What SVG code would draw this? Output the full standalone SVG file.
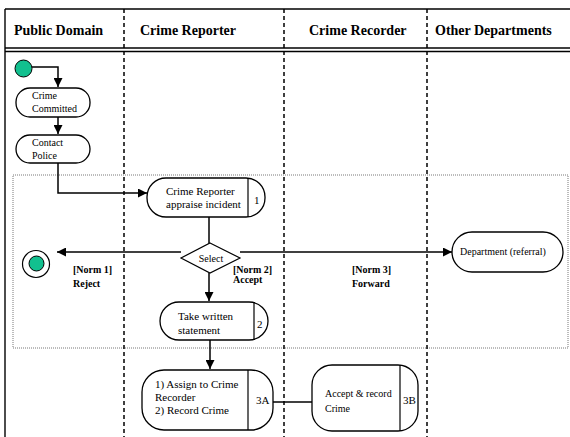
<svg xmlns="http://www.w3.org/2000/svg" width="570" height="437" viewBox="0 0 570 437" font-family="Liberation Serif, Times New Roman, serif">
<style>
.hdr{font-weight:bold;font-size:14px}
.t{font-size:10px}
.m{font-size:11px}
.b{font-size:10px;font-weight:bold}
.box{fill:#fff;stroke:#000;stroke-width:1.3}
.div{stroke:#000;stroke-width:1.2}
.lane{stroke:#000;stroke-width:1.5;stroke-dasharray:4 3;fill:none}
.con{stroke:#000;stroke-width:1.5;fill:none}
</style>
<defs>
<marker id="ah" viewBox="0 0 10 10" refX="10" refY="5" markerWidth="9" markerHeight="9" markerUnits="userSpaceOnUse" orient="auto">
<path d="M0,0 L10,5 L0,10 z" fill="#000"/>
</marker>
</defs>
<rect width="570" height="437" fill="#fff"/>
<g id="frame">
<line x1="5" y1="9" x2="570" y2="9" stroke="#000" stroke-width="1.6"/>
<line x1="5" y1="9" x2="5" y2="437" stroke="#000" stroke-width="1.4"/>
<line x1="5" y1="48" x2="570" y2="48" stroke="#000" stroke-width="1.6"/>
<line x1="5" y1="51.5" x2="570" y2="51.5" stroke="#000" stroke-width="1.6"/>
<rect x="13" y="175" width="555" height="173" fill="none" stroke="#555" stroke-width="0.8" stroke-dasharray="1 1"/>
<line class="lane" x1="124" y1="9" x2="124" y2="437"/>
<line class="lane" x1="284" y1="9" x2="284" y2="437"/>
<line class="lane" x1="427" y1="9" x2="427" y2="437"/>
<text class="hdr" x="14" y="35">Public Domain</text>
<text class="hdr" x="140" y="35">Crime Reporter</text>
<text class="hdr" x="309" y="35">Crime Recorder</text>
<text class="hdr" x="435" y="35">Other Departments</text>
</g>
<g id="connectors">
<path class="con" d="M32,67 H58 V87" marker-end="url(#ah)"/>
<path class="con" d="M58,117 V134" marker-end="url(#ah)"/>
<path class="con" d="M58,163 V193 H147" marker-end="url(#ah)"/>
<path class="con" d="M209,217 V243"/>
<path class="con" d="M181,252 H57" marker-end="url(#ah)"/>
<path class="con" d="M240,252 H452" marker-end="url(#ah)"/>
<path class="con" d="M209,273 V301" marker-end="url(#ah)"/>
<path class="con" d="M210,340 V369" marker-end="url(#ah)"/>
<path class="con" d="M273,402 H312"/>
</g>
<g id="start">
<circle cx="23.5" cy="68.5" r="8.5" fill="#12c08f" stroke="#000" stroke-width="1"/>
</g>
<g id="crime-committed">
<rect class="box" x="16" y="88" width="74" height="29" rx="14" ry="14"/>
<text class="t" x="32" y="99">Crime</text>
<text class="t" x="32" y="112">Committed</text>
</g>
<g id="contact-police">
<rect class="box" x="16" y="135" width="74" height="28" rx="14" ry="14"/>
<text class="t" x="32" y="146">Contact</text>
<text class="t" x="32" y="159">Police</text>
</g>
<g id="appraise">
<rect class="box" x="147" y="178" width="118" height="39" rx="19" ry="19"/>
<line class="div" x1="248" y1="178" x2="248" y2="217"/>
<text class="m" x="166" y="195">Crime Reporter</text>
<text class="m" x="166" y="208">appraise incident</text>
<text class="m" x="254" y="204">1</text>
</g>
<g id="select">
<polygon points="210,243 240,258 210,273 181,258" fill="#fff" stroke="#000" stroke-width="1.2"/>
<text class="t" x="211" y="262" text-anchor="middle">Select</text>
</g>
<g id="end">
<circle cx="36" cy="264" r="13.5" fill="#fff" stroke="#000" stroke-width="1.2"/>
<circle cx="36.5" cy="263.5" r="7.5" fill="#12c08f" stroke="#000" stroke-width="1"/>
</g>
<g id="labels">
<text class="b" x="73" y="273">[Norm 1]</text>
<text class="b" x="73" y="287">Reject</text>
<text class="b" x="233" y="273">[Norm 2]</text>
<text class="b" x="233" y="283">Accept</text>
<text class="b" x="352" y="273">[Norm 3]</text>
<text class="b" x="352" y="287">Forward</text>
</g>
<g id="department">
<rect class="box" x="452" y="232" width="111" height="40" rx="20" ry="20"/>
<text class="t" x="460" y="255">Department (referral)</text>
</g>
<g id="take-statement">
<rect class="box" x="160" y="302" width="108" height="38" rx="19" ry="19"/>
<line class="div" x1="254" y1="302" x2="254" y2="340"/>
<text class="m" x="178" y="320">Take written</text>
<text class="m" x="178" y="334">statement</text>
<text class="m" x="257" y="328">2</text>
</g>
<g id="assign">
<rect class="box" x="142" y="370" width="131" height="60" rx="22" ry="22"/>
<line class="div" x1="248" y1="370" x2="248" y2="430"/>
<text class="m" x="155" y="388">1) Assign to Crime</text>
<text class="m" x="155" y="401">Recorder</text>
<text class="m" x="155" y="414">2) Record Crime</text>
<text class="m" x="256" y="404">3A</text>
</g>
<g id="accept-record">
<rect class="box" x="312" y="365" width="106" height="66" rx="20" ry="20"/>
<line class="div" x1="400" y1="365" x2="400" y2="431"/>
<text class="t" x="325" y="397">Accept &amp; record</text>
<text class="t" x="325" y="412">Crime</text>
<text class="m" x="403" y="404">3B</text>
</g>
</svg>
